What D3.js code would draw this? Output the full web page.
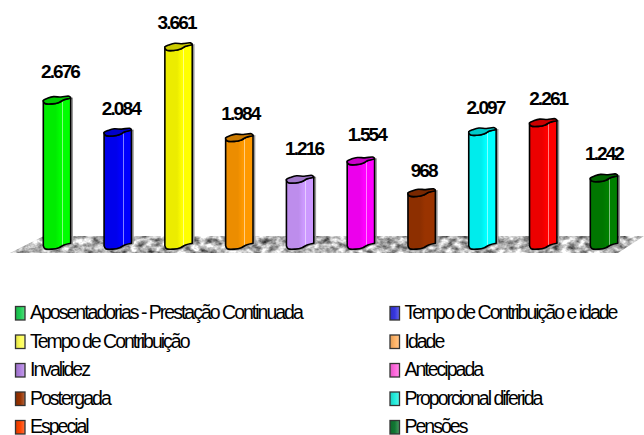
<!DOCTYPE html>
<html>
<head>
<meta charset="utf-8">
<script src="https://cdn.jsdelivr.net/npm/d3@7"></script>
<style>
  html, body { margin: 0; padding: 0; background: #fff; overflow: hidden; }
  text { font-family: "Liberation Sans", Arial, sans-serif; fill: #000; }
</style>
</head>
<body>
<div id="chart"></div>
<script>
var categories = ["Aposentadorias - Prestação Continuada", "Tempo de Contribuição e idade",
  "Tempo de Contribuição", "Idade", "Invalidez", "Antecipada", "Postergada",
  "Proporcional diferida", "Especial", "Pensões"];
var values = [2676, 2084, 3661, 1984, 1216, 1554, 968, 2097, 2261, 1242];
var valueLabels = ["2.676", "2.084", "3.661", "1.984", "1.216", "1.554", "968", "2.097", "2.261", "1.242"];
var barColors = ["#00ff00", "#0000ff", "#ffff00", "#ff9900", "#cc99ff", "#ff00ff", "#993300", "#00ffff", "#ff0000", "#008000"];
var legendColors = ["#1fcf55", "#3636e0", "#ffff55", "#ffb366", "#b080e0", "#ff66dd", "#993300", "#22eedd", "#ff4400", "#117733"];
// labels were hand placed in the original, so nudge them one by one
var labelDx = [3, 3, -2, 1, 4, 6, 2, 3, 5, 0];
var labelDy = [-18, -14, -14, -14, -21, -16, -12, -14, -14, -14];

var width = 644, height = 435;

var svg = d3.select("#chart").append("svg")
    .attr("width", width)
    .attr("height", height)
    .style("display", "block");

var defs = svg.append("defs");

// set the ranges
var x = d3.scalePoint().domain(categories).range([57, 604]);
var y = d3.scaleLinear().domain([0, 4000]).range([241.5, 24.7]);
var halfW = 13.7;

// floor texture
var noise = defs.append("filter")
    .attr("id", "stone")
    .attr("color-interpolation-filters", "sRGB")
    .attr("x", 0).attr("y", 0).attr("width", 1).attr("height", 1);
noise.append("feTurbulence")
    .attr("type", "fractalNoise")
    .attr("baseFrequency", "0.13 0.18")
    .attr("numOctaves", 3)
    .attr("seed", 7);
noise.append("feColorMatrix")
    .attr("type", "matrix")
    .attr("values", "1.3 0 0 0 0.05  1.3 0 0 0 0.05  1.3 0 0 0 0.05  0 0 0 0 1");
noise.append("feComposite")
    .attr("in2", "SourceAlpha")
    .attr("operator", "in");

svg.append("polygon")
    .attr("points", "10,253 44,236 644,236 618,253")
    .attr("fill", "#aaa")
    .attr("filter", "url(#stone)");

// bar gradients
barColors.forEach(function(c, i) {
  var g = defs.append("linearGradient").attr("id", "bar" + i);
  var dark = d3.color(c).darker(0.22).formatHex();
  var light = d3.interpolateRgb(c, "#fff")(0.5);
  [[0, dark], [0.45, dark], [0.62, c], [0.68, c], [0.68, light], [0.71, light], [0.71, c], [1, c]].forEach(function(s) {
    g.append("stop").attr("offset", s[0]).attr("stop-color", s[1]);
  });
});

legendColors.forEach(function(c, i) {
  var g = defs.append("linearGradient").attr("id", "swatch" + i);
  g.append("stop").attr("offset", 0).attr("stop-color", d3.color(c).darker(0.4).formatHex());
  g.append("stop").attr("offset", 0.5).attr("stop-color", c);
  g.append("stop").attr("offset", 1).attr("stop-color", d3.interpolateRgb(c, "#fff")(0.25));
});

var wave = d3.line().curve(d3.curveCatmullRom);
var waveClosed = d3.line().curve(d3.curveCatmullRomClosed);

// the wavy cross section of a bar, right to left along the front
function frontEdge(cx, t) {
  return [[cx + halfW, t + 1.5], [cx + 7, t + 3.2], [cx + 2, t + 6], [cx - 5, t + 7.4], [cx - 12, t + 7], [cx - halfW, t + 4]];
}

function backEdge(cx, t) {
  return [[cx - 9, t + 1.6], [cx - 3.5, t + 0.2], [cx + 4, t + 0.6], [cx + 12, t - 0.2]];
}

// front face of one bar, t = y of the top, b = y of the foot
function bodyPath(cx, t, b) {
  return wave(frontEdge(cx, t)) + "L" + wave(frontEdge(cx, b + 0.2).reverse()).slice(1) + "Z";
}

function topPath(cx, t) {
  return waveClosed(frontEdge(cx, t).concat(backEdge(cx, t)));
}

var bars = svg.selectAll(".bar")
    .data(categories)
    .enter().append("g")
    .attr("class", "bar");

// soft shadow on the right of each bar
bars.append("path")
    .attr("d", function(d, i) { return bodyPath(x(d) + 1.5, y(values[i]) + 0.5, y(0) + 0.5); })
    .attr("fill", "none")
    .attr("stroke", "#999")
    .attr("stroke-width", 1.6);

bars.append("path")
    .attr("d", function(d, i) { return bodyPath(x(d), y(values[i]), y(0)); })
    .attr("fill", function(d, i) { return "url(#bar" + i + ")"; })
    .attr("stroke", "#000")
    .attr("stroke-width", 1.6)
    .attr("stroke-linejoin", "round");

bars.append("path")
    .attr("d", function(d, i) { return topPath(x(d), y(values[i])); })
    .attr("fill", function(d, i) { return d3.color(barColors[i]).darker(0.65).formatHex(); })
    .attr("stroke", "#000")
    .attr("stroke-width", 1.6)
    .attr("stroke-linejoin", "round");

// value labels
bars.append("text")
    .attr("x", function(d, i) { return x(d) + labelDx[i]; })
    .attr("y", function(d, i) { return y(values[i]) + labelDy[i]; })
    .attr("text-anchor", "middle")
    .style("font-size", "19px")
    .style("font-weight", "bold")
    .style("letter-spacing", "-1.9px")
    .text(function(d, i) { return valueLabels[i]; });

// legend, two columns
var legendRow = d3.scalePoint().domain([0, 1, 2, 3, 4]).range([319, 433]);
var legendCol = [15, 389.5];

var legend = svg.selectAll(".legend")
    .data(categories)
    .enter().append("g")
    .attr("class", "legend")
    .attr("transform", function(d, i) {
      return "translate(" + legendCol[i % 2] + "," + legendRow(Math.floor(i / 2)) + ")";
    });

legend.append("rect")
    .attr("x", 0.5)
    .attr("y", -12.5)
    .attr("width", 9.5)
    .attr("height", 13.5)
    .attr("fill", function(d, i) { return "url(#swatch" + i + ")"; })
    .attr("stroke", "#333")
    .attr("stroke-width", 1.3);

legend.append("text")
    .attr("x", 15)
    .attr("y", 0)
    .style("font-size", "19.5px")
    .style("letter-spacing", "-2px")
    .text(function(d) { return d; });
</script>
</body>
</html>
